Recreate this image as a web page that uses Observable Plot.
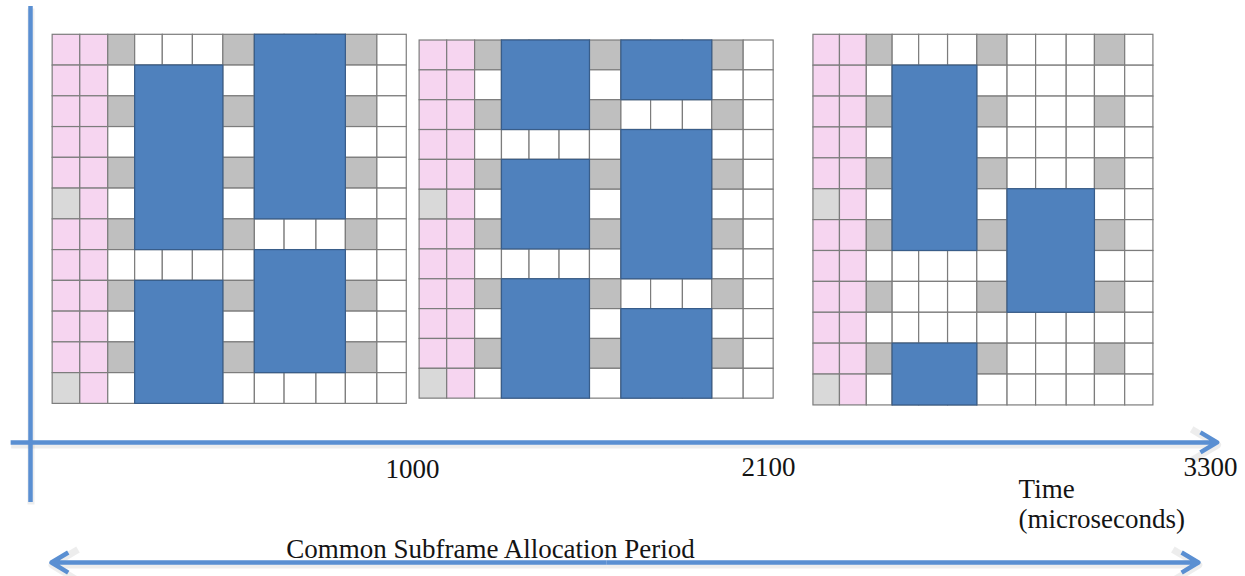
<!DOCTYPE html>
<html>
<head>
<meta charset="utf-8">
<script src="https://cdn.jsdelivr.net/npm/d3@7"></script>
<script src="https://cdn.jsdelivr.net/npm/@observablehq/plot@0.6"></script>
<style>
  html, body { margin: 0; padding: 0; background: #fff; }
  svg { display: block; }
</style>
</head>
<body>
<div id="chart"></div>
<script>
// ---- Data ----
// time-axis tick labels (microseconds)
const tickTimes = [1000, 2100, 3300];
const tickLabels = ["1000", "2100", "3300"];

// three subframes (resource grids): start / end time (µs) and row extent
const subframeStart = [58, 1022, 2222];
const subframeEnd = [985, 2114, 3145];
const subframeTop = [0, 0.185, 0];
const subframeBottom = [11.98, 11.81, 12.03];

// base pattern of every grid: P = control (pink), L = light grey, G = reference (grey), W = free
const basePattern = [
  "PPGWWWGWWWGW",
  "PPWWWWWWWWWW",
  "PPGWWWGWWWGW",
  "PPWWWWWWWWWW",
  "PPGWWWGWWWGW",
  "LPWWWWWWWWWW",
  "PPGWWWGWWWGW",
  "PPWWWWWWWWWW",
  "PPGWWWGWWWGW",
  "PPWWWWWWWWWW",
  "PPGWWWGWWWGW",
  "LPWWWWWWWWWW"
];
const cellTypes = ["P", "L", "G", "W"];
const cellColors = ["#f6d5f0", "#d9d9d9", "#bfbfbf", "#ffffff"];

// allocated (blue) blocks: subframe, first col, end col, first row, end row
const allocSubframe = [0, 0, 0, 0, 1, 1, 1, 1, 1, 1, 2, 2, 2];
const allocCol0 =     [3, 3, 7, 7, 3, 3, 3, 7, 7, 7, 3, 7, 3];
const allocCol1 =     [6, 6, 10, 10, 6, 6, 6, 10, 10, 10, 6, 10, 6];
const allocRow0 =     [1, 8, 0, 7, 0, 4, 8, 0, 3, 9, 1, 5, 10];
const allocRow1 =     [7, 12, 6, 11, 3, 7, 12, 2, 8, 12, 7, 9, 12];

const axisTitle = ["Time", "(microseconds)"];
const periodLabel = "Common Subframe Allocation Period";

// ---- Layout helpers (symbol boundaries as fraction of a subframe) ----
const colEdges = [0, 0.078, 0.157, 0.233, 0.311, 0.396, 0.482, 0.571, 0.655, 0.745, 0.828, 0.917, 1];
const NR = 12;
const colX = (s, c) => subframeStart[s] + colEdges[c] * (subframeEnd[s] - subframeStart[s]);
const rowY = (s, r) => subframeTop[s] + r * (subframeBottom[s] - subframeTop[s]) / NR;

const cells = [];
subframeStart.forEach((_, s) => {
  basePattern.forEach((row, r) => {
    [...row].forEach((t, c) => {
      cells.push({s, r, c, type: t,
        x1: colX(s, c), x2: colX(s, c + 1), y1: rowY(s, r), y2: rowY(s, r + 1)});
    });
  });
});
const blocks = allocSubframe.map((s, i) => ({
  x1: colX(s, allocCol0[i]), x2: colX(s, allocCol1[i]),
  y1: rowY(s, allocRow0[i]), y2: rowY(s, allocRow1[i])
}));

const ticks = tickTimes.map((t, i) => ({t, label: tickLabels[i], y: i === 0 ? 14.4 : 14.33}));

const axisColor = "#5a8fd2";
const textColor = "#141414";
const font = "Liberation Serif, Times New Roman, serif";

const timeAxis = [{x1: -52, x2: 3318, y: 13.23}];
const periodArrows = [{x1: 1600, x2: 55, y: 17.13}, {x1: 1600, x2: 3267, y: 17.13}];
const arrowOpts = {x1: "x1", x2: "x2", y1: "y", y2: "y", headLength: 6.5, headAngle: 62,
  strokeLinejoin: "round", strokeLinecap: "butt"};
const shadow = {stroke: "#000", strokeOpacity: 0.07, strokeWidth: 7, dx: 0.5, dy: 2.5};

const chart = Plot.plot({
  width: 1245,
  height: 576,
  margin: 0,
  style: {background: "#fff", fontFamily: font},
  x: {type: "linear", domain: [0, 1000, 2100, 3300], range: [30, 412, 768, 1210], axis: null},
  y: {type: "linear", domain: [0, 12], range: [34.3, 404], axis: null},
  color: {domain: cellTypes, range: cellColors},
  marks: [
    // resource grid cells
    Plot.rect(cells, {x1: "x1", x2: "x2", y1: "y1", y2: "y2", fill: "type",
      stroke: "#7c7c7c", strokeWidth: 1.2}),
    // allocated blocks
    Plot.rect(blocks, {x1: "x1", x2: "x2", y1: "y1", y2: "y2", fill: "#4f81bd",
      stroke: "#385d8a", strokeWidth: 1.2}),
    // shadows of the axis lines
    Plot.ruleX([0], {y1: -0.92, y2: 15.18, ...shadow}),
    Plot.arrow(timeAxis, {...arrowOpts, ...shadow}),
    Plot.arrow(periodArrows, {...arrowOpts, ...shadow}),
    // vertical axis
    Plot.ruleX([0], {y1: -0.92, y2: 15.18, stroke: axisColor, strokeWidth: 4.5}),
    // horizontal time axis with arrow
    Plot.arrow(timeAxis, {...arrowOpts, stroke: axisColor, strokeWidth: 4.5}),
    // double arrow for the period
    Plot.arrow(periodArrows, {...arrowOpts, stroke: axisColor, strokeWidth: 4.5}),
    // tick labels
    Plot.text(ticks, {x: "t", y: "y", text: "label", fontSize: 27, fill: textColor,
      lineAnchor: "bottom", textAnchor: "middle"}),
    // axis title
    Plot.text(axisTitle, {x: 2779, y: (d, i) => i === 0 ? 15.02 : 16.02, text: d => d,
      fontSize: 27, fill: textColor, lineAnchor: "bottom", textAnchor: "start"}),
    // period label
    Plot.text([periodLabel], {x: 1241, y: 16.97, text: d => d, fontSize: 27,
      fill: textColor, lineAnchor: "bottom", textAnchor: "middle"})
  ]
});
document.getElementById("chart").appendChild(chart);
</script>
</body>
</html>
